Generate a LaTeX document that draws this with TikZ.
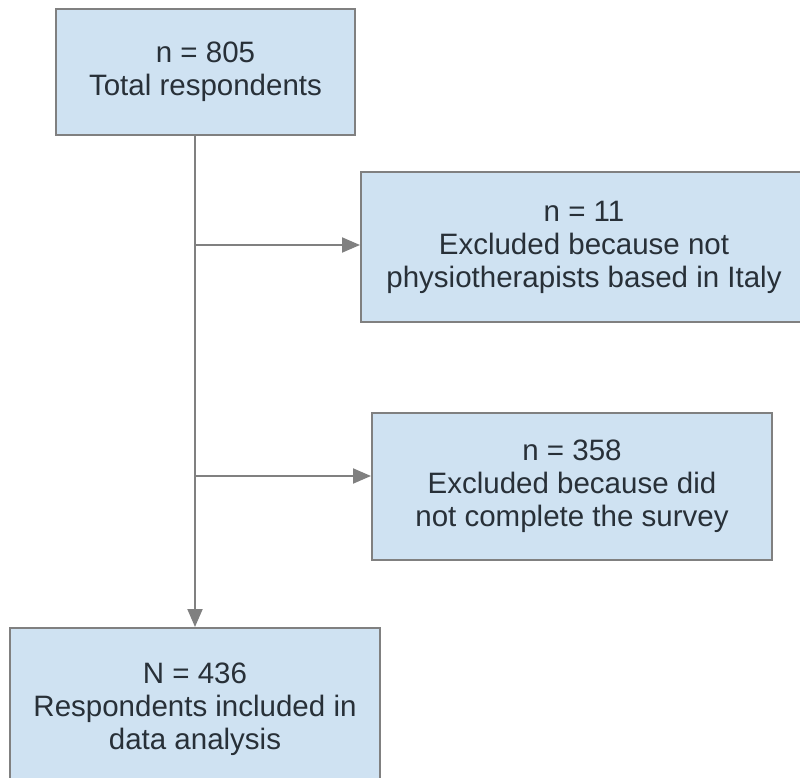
\documentclass[tikz,border=0pt]{standalone}
\usepackage{fontspec}
\setmainfont{Liberation Sans}
\usepackage{tikz}
\usetikzlibrary{positioning,arrows.meta}
\definecolor{boxclr}{RGB}{207,226,242}
\definecolor{lineclr}{RGB}{128,128,128}
\definecolor{txtclr}{RGB}{40,48,56}
\tikzset{ %
  ,>={Triangle[length=18pt,width=15pt]}
  ,every node/.style={font=\fontsize{29.5}{33}\selectfont, text=txtclr}
  ,stagebox/.style={draw=lineclr, line width=2pt, fill=boxclr, rectangle, align=center, inner sep=0}
  ,flow/.style={draw=lineclr, line width=2pt}
}

\begin{document}
\begin{tikzpicture}[x=1pt, y=1pt]
      \useasboundingbox (0,0) rectangle (800,-778);
      \node[stagebox, minimum width=299pt, minimum height=126pt] (total) at (205.5,-72)
        {n = 805\\Total respondents};
      \node[stagebox, minimum width=446pt, minimum height=150pt] (excla) at (584,-247)
        {n = 11\\Excluded because not\\physiotherapists based in Italy};
      \node[stagebox, minimum width=400pt, minimum height=147pt] (exclb) at (572,-486.5)
        {n = 358\\Excluded because did\\not complete the survey};
      \node[stagebox, minimum width=370pt, minimum height=162pt] (final) at (195,-709)
        {N = 436\\Respondents included in\\data analysis};
      \coordinate (ba) at (196,-245);
      \coordinate (bb) at (196,-476);
      \draw [flow,->] (total.south -| final.north) -- (final.north);
      \draw [flow,->] (ba) -- (ba -| excla.west);
      \draw [flow,->] (bb) -- (bb -| exclb.west);
    \end{tikzpicture}
\end{document}
